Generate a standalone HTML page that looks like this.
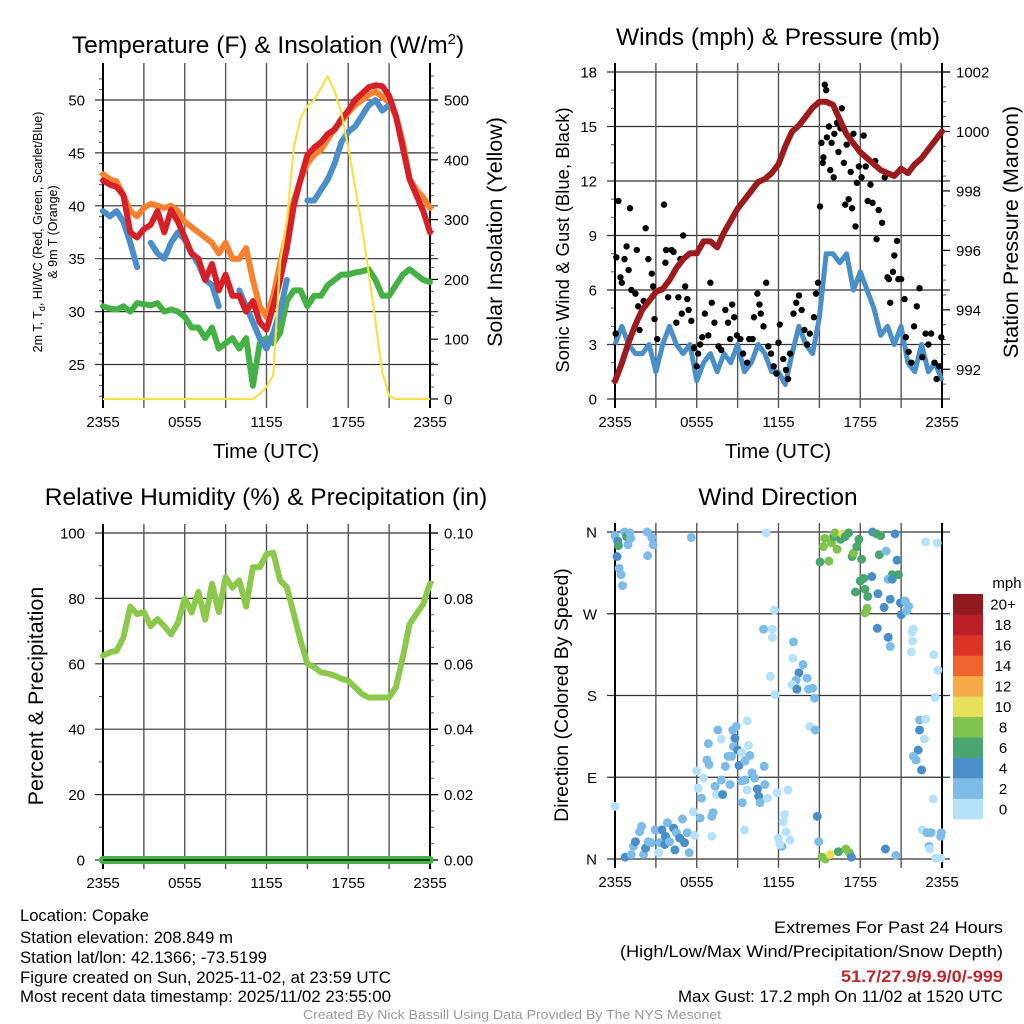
<!DOCTYPE html>
<html><head><meta charset="utf-8"><style>
html,body{margin:0;padding:0;background:#fff}
svg{display:block;font-family:"Liberation Sans",sans-serif}
</style></head><body>
<svg id="fig" width="1024" height="1024" viewBox="0 0 1024 1024" xmlns="http://www.w3.org/2000/svg">
<rect width="1024" height="1024" fill="#fff"/>
<g id="p1"></g>
<g id="p2"></g>
<g id="p3"></g>
<g id="p4"></g>
<g font-size="16.5" fill="#000">
<text x="20" y="921" textLength="129" lengthAdjust="spacingAndGlyphs">Location: Copake</text>
<text x="20" y="943" textLength="213" lengthAdjust="spacingAndGlyphs">Station elevation: 208.849 m</text>
<text x="20" y="963" textLength="247" lengthAdjust="spacingAndGlyphs">Station lat/lon: 42.1366; -73.5199</text>
<text x="20" y="983" textLength="371" lengthAdjust="spacingAndGlyphs">Figure created on Sun, 2025-11-02, at 23:59 UTC</text>
<text x="20" y="1002" textLength="371" lengthAdjust="spacingAndGlyphs">Most recent data timestamp: 2025/11/02 23:55:00</text>
<text x="774" y="933" textLength="229" lengthAdjust="spacingAndGlyphs">Extremes For Past 24 Hours</text>
<text x="620" y="957" textLength="383" lengthAdjust="spacingAndGlyphs">(High/Low/Max Wind/Precipitation/Snow Depth)</text>
<text x="841" y="982" textLength="162" lengthAdjust="spacingAndGlyphs" font-weight="bold" fill="#c0262d">51.7/27.9/9.9/0/-999</text>
<text x="678" y="1002" textLength="325" lengthAdjust="spacingAndGlyphs">Max Gust: 17.2 mph On 11/02 at 1520 UTC</text>
<text x="303" y="1019" textLength="418" lengthAdjust="spacingAndGlyphs" font-size="13" fill="#999">Created By Nick Bassill Using Data Provided By The NYS Mesonet</text>
</g>
</svg>
<script>
// ---- shared time axis ----
const hourLabels = ["2355","0555","1155","1755","2355"];
const halfHours = []; for (let i = 0; i <= 48; i++) halfHours.push(i / 2);

// ---- panel 1 data ----
const tempRed = [42.4,42.0,41.8,41.0,37.5,37.0,37.8,38.2,39.5,37.5,39.6,38.5,37.0,35.5,35.0,33.0,34.5,32.0,33.5,31.5,31.5,30.0,31.0,29.0,28.3,30.5,33.0,36.0,40.0,42.5,44.8,45.5,46.0,46.8,47.2,48.2,49.0,50.0,50.6,51.2,51.4,51.3,50.4,48.5,45.5,42.5,41.0,39.5,37.5];
const temp9mOrange = [43.0,42.5,42.3,41.0,39.5,39.0,39.8,40.2,40.0,39.8,40.0,39.5,38.5,38.0,37.5,37.0,36.5,35.5,36.5,35.0,35.0,36.0,33.0,30.5,29.5,31.5,34.5,37.5,40.5,42.5,44.0,44.8,45.3,46.3,47.3,48.0,48.8,49.5,50.0,50.5,50.8,50.3,49.8,48.5,46.0,42.5,41.5,40.8,39.8];
const heatIndexBlue = [39.5,39.0,39.5,38.5,36.5,34.2,null,36.5,35.5,35.0,36.5,37.5,36.8,35.5,34.5,33.0,32.5,30.5,null,null,32.0,30.5,29.0,27.5,26.5,28.0,30.0,33.0,null,null,40.5,40.5,41.5,42.5,44.0,46.0,47.0,47.5,48.5,49.5,50.0,49.0,49.5,null,null,41.0,null,null,36.0];
const dewGreen = [30.5,30.3,30.2,30.5,30.0,30.8,30.7,30.6,30.8,30.0,30.2,30.0,29.5,28.5,28.5,27.5,28.5,26.5,27.0,27.5,26.5,27.5,23.0,27.0,27.5,27.0,28.0,31.0,32.0,32.0,30.5,31.5,31.5,32.5,33.0,33.5,33.5,33.7,33.8,34.0,33.0,31.5,31.5,32.5,33.5,34.0,33.5,33.0,32.8];
const insolation = [0,0,0,0,0,0,0,0,0,0,0,0,0,0,0,0,0,0,0,0,0,0,0,8,20,40,230,300,420,470,490,500,520,540,515,478,420,355,288,210,130,45,5,0,0,0,0,0,0];
const tempTicks = [25,30,35,40,45,50];
const insolTicks = [0,100,200,300,400,500];

// ---- panel 2 data ----
const windSpeed = [3,4,3,2.5,2.5,3,1.5,3,4,3,2.5,3,1,2,2.5,1.5,2.5,2,3,1.5,2,3,2.5,1.5,1.5,0.8,2.5,4,3,2.5,4.5,8,8,7.5,8,6,7,6,5,3.5,4,3,4,2,1.5,3,1.5,2,1];
const pressure = [991.6,992.2,992.9,993.5,994.0,994.3,994.6,994.7,995.0,995.4,995.7,995.9,995.9,996.3,996.3,996.1,996.6,997.0,997.4,997.7,998.0,998.3,998.4,998.6,998.9,999.5,1000.0,1000.2,1000.5,1000.8,1001.0,1001.0,1000.9,1000.4,999.9,999.6,999.3,999.1,998.9,998.7,998.6,998.5,998.75,998.6,998.9,999.1,999.4,999.7,1000.0];
const gustTime = [0.05,0.1,0.25,0.4,0.5,0.7,0.85,1,1.1,1.2,1.5,1.6,1.7,1.8,2.1,2.25,2.45,2.7,2.8,2.9,3.1,3.3,3.6,3.7,3.75,3.9,4.15,4.3,4.5,4.65,4.8,4.9,5.0,5.15,5.3,5.4,5.6,5.8,6.0,6.1,6.25,6.4,6.6,6.85,7.0,7.1,7.3,7.6,7.8,8.1,8.3,8.45,8.6,8.75,8.95,9.2,9.4,9.7,9.85,10.1,10.2,10.45,10.6,10.7,10.9,11.1,11.25,11.45,11.65,11.85,12.0,12.1,12.35,12.55,12.7,12.85,13.1,13.3,13.5,13.7,13.9,14.1,14.3,14.6,14.75,14.9,15.05,15.15,15.25,15.3,15.4,15.5,15.55,15.7,15.8,15.9,16.05,16.1,16.3,16.4,16.55,16.65,16.8,16.9,17.0,17.15,17.3,17.4,17.5,17.65,17.75,17.9,18.1,18.25,18.4,18.55,18.75,18.9,19.1,19.2,19.35,19.6,19.8,20.0,20.1,20.2,20.4,20.5,20.7,20.8,21.0,21.25,21.35,21.55,21.75,21.95,22.15,22.35,22.55,22.8,23.0,23.2,23.45,23.6,23.8,23.95];
const gustSpeed = [3.6,7.8,10.9,6.7,6.4,7.7,8.4,7.1,10.5,6.0,5.8,8.2,5.1,3.8,5.4,9.4,7.7,6.9,6.2,4.4,3.3,6.0,10.7,7.5,8.2,5.6,8.2,8.1,4.2,5.6,7.7,4.7,9.0,6.2,5.5,4.9,4.3,2.8,1.8,2.5,3.0,3.4,4.7,3.5,6.4,5.3,4.2,2.9,2.7,4.9,4.2,3.3,5.2,4.5,3.5,3.3,2.5,2.0,3.3,3.3,4.5,5.8,5.2,4.7,4.0,6.4,2.9,2.5,1.8,1.4,3.1,4.1,2.2,1.6,1.1,2.5,4.7,5.3,5.7,4.9,3.8,3.0,3.6,4.5,5.8,6.4,10.6,14.1,13.0,13.3,17.3,17.0,14.4,15.0,12.6,14.1,12.2,14.6,15.2,13.6,14.9,16.0,13.0,10.7,14.0,11.0,12.5,10.5,14.6,9.5,11.9,12.8,12.2,14.5,12.8,10.9,11.8,10.8,13.1,8.8,10.4,9.7,12.2,6.7,6.6,5.3,7.0,7.9,8.7,6.6,6.6,5.5,3.4,2.6,2.0,4.0,5.1,6.1,2.3,3.6,3.0,3.6,2.0,1.1,1.8,3.4];
const windTicks = [0,3,6,9,12,15,18];
const pressTicks = [992,994,996,998,1000,1002];

// ---- panel 3 data ----
const relHumidity = [62.5,63.5,64,68,77.5,75.2,75.8,71.5,73.7,71.5,69,72.5,80,75.7,82,73.5,84.5,75.8,86.5,83.3,85.5,77.5,89.5,89.5,93.5,94,85.5,83.4,75.2,67.1,60,59,57.4,57,56.4,55.4,54.8,52.8,50.8,49.7,49.7,49.7,49.7,52.8,62,72.2,75.2,78.3,84.5];
const precip = [0,0,0,0,0,0,0,0,0,0,0,0,0,0,0,0,0,0,0,0,0,0,0,0,0,0,0,0,0,0,0,0,0,0,0,0,0,0,0,0,0,0,0,0,0,0,0,0,0];
const rhTicks = [0,20,40,60,80,100];
const precipTicks = ["0.00","0.02","0.04","0.06","0.08","0.10"];

// ---- panel 4 data ----
const dirTime = [0,0.2,0.25,0.7,0.85,1.1,1.15,0.95,0.15,0.3,0.45,0.55,2.35,2.7,2.8,2.4,5.6,11.1,0,
0.75,1.2,1.35,1.5,1.8,1.95,2.1,2.25,2.45,2.65,2.95,3.2,3.3,3.45,3.65,3.7,3.85,4.0,4.3,4.4,4.5,4.75,4.95,5.1,5.3,5.45,5.75,5.85,6.25,6.35,6.1,6.0,6.5,7.1,7.1,7.2,7.35,7.45,7.9,7.8,8.45,8.1,8.3,8.55,6.75,6.9,6.85,7.55,7.8,8.65,8.9,9.7,8.8,8.7,9.0,9.1,9.3,9.55,9.8,9.9,9.55,9.3,9.35,9.5,9.7,10.05,10.25,10.45,10.55,10.65,11.0,10.95,11.2,11.9,12.7,12.45,12.35,12.55,12.0,12.25,12.1,12.85,
10.9,11.55,11.55,11.7,11.4,11.75,13.1,13.05,13.5,13.8,13.3,13.0,13.35,14.1,14.2,14.5,14.65,14.3,14.7,14.85,14.95,
15.05,15.3,15.4,15.7,15.9,16.05,16.15,16.3,16.55,16.7,16.9,17.15,17.4,17.5,17.75,17.9,18.1,17.65,18.0,18.25,18.35,18.5,18.35,18.55,18.85,19.3,18.9,19.2,19.5,19.4,19.9,20.35,20.05,20.35,20.55,20.7,20.8,19.75,19.25,20.05,20.2,20.2,20.95,21.0,21.3,21.55,21.4,21.8,21.9,21.85,21.75,22.8,23.65,23.4,23.7,23.5,
22.35,22.8,22.35,22.7,22.25,21.9,22.1,22.5,23.35,22.55,22.9,23.2,23.95,23.9,23.05,23.1,23.55,23.9,
15.2,15.45,15.8,16.4,16.95,17.2,17.35,19.85,20.6];
const dirDeg = [356,350,345,360,355,359,353,346,333,320,313,301,360,354,346,334,354,359,58,
2,5,14,19,30,36,5,12,19,18,32,7,18,32,16,25,40,19,34,10,29,23,44,18,29,7,52,26,45,67,78,97,89,25,47,51,80,71,71,87,82,102,113,113,109,104,127,142,132,142,146,152,133,124,120,103,117,108,125,114,87,86,62,32,76,95,89,77,69,62,82,102,67,73,76,49,41,30,23,14,16,21,
253,253,244,274,201,181,239,221,205,214,197,192,187,199,187,188,177,146,142,47,19,
327,344,353,328,348,355,359,341,352,358,355,359,333,337,344,352,330,294,306,309,297,276,271,289,311,292,360,358,356,335,339,313,308,308,358,329,313,277,254,244,234,286,282,269,284,278,273,250,253,240,228,349,348,225,208,178,
153,154,142,132,120,113,109,98,66,32,29,29,29,25,14,11,1,1,
2,0,5,8,11,7,2,11,4];
const dirSpeed = [3,5,7,3,7,3,3,3,5,3,3,3,3,3,3,3,3,1,1,
5,3,3,5,3,3,3,5,3,3,3,1,3,5,5,5,3,3,5,5,3,5,3,5,3,3,1,1,3,3,1,1,1,1,3,3,3,1,5,3,3,3,3,3,3,3,3,3,1,3,3,1,5,3,5,5,1,3,1,3,3,3,3,1,1,3,3,5,5,3,3,3,1,1,1,1,1,1,1,3,1,1,
3,1,1,1,1,1,3,1,5,3,3,1,5,3,3,3,3,1,3,5,3,
7,9,9,9,9,7,9,9,7,11,7,7,7,9,7,7,7,7,7,7,7,9,9,7,5,5,5,7,7,7,3,7,3,5,5,5,7,5,5,5,3,5,5,5,3,3,3,1,1,1,1,1,1,1,1,1,
3,1,5,1,5,3,3,5,1,1,3,3,3,3,3,1,1,1,
9,9,11,7,9,9,5,5,3];
const dirTicks = [0,90,180,270,360];
const dirLabels = ["N","E","S","W","N"];
const speedBinLabels = ["0","2","4","6","8","10","12","14","16","18","20+"];
const speedBinColors = ["#b5e2f8","#7dbce7","#4a8fc8","#4aa66e","#7fc24e","#e6e05a","#f6aa4a","#ef6530","#dc3327","#bb1e26","#901a1e"];

// ---- geometry ----
const NS = "http://www.w3.org/2000/svg";
const PX0 = [103, 615], PW = 327;
function mk(parent, tag, attrs, text) {
  const e = document.createElementNS(NS, tag);
  for (const k in attrs) e.setAttribute(k, attrs[k]);
  if (text !== undefined) e.textContent = text;
  parent.appendChild(e);
  return e;
}
function xScale(x0) { return t => x0 + t * PW / 24; }
function linScale(v0, v1, y0, y1) { return v => y0 + (v - v0) * (y1 - y0) / (v1 - v0); }

function drawFrame(g, x0, top, bottom, lyTicks, lyScale, lyLabels, ryTicks, ryScale, ryLabels, lMinor, rMinor) {
  const X = xScale(x0);
  lyTicks.forEach((v, i) => {
    const y = lyScale(v);
    const l = mk(g, "line", {x1: x0 - 8, x2: x0 + PW + 8, y1: y, y2: y, stroke: "#333", "stroke-width": 1.2});
    
    
    const t = mk(g, "text", {x: x0 - 18, y: y + 5.5, "text-anchor": "end", "font-size": 15}, lyLabels[i]);
    
    
  });
  if (ryTicks) ryTicks.forEach((v, i) => {
    const y = ryScale(v);
    mk(g, "line", {x1: x0 + PW, x2: x0 + PW + 8, y1: y, y2: y, stroke: "#000", "stroke-width": 1.2});
    const t = mk(g, "text", {x: x0 + PW + 14, y: y + 5.5, "font-size": 15}, ryLabels[i]);
    
    
  });
  (lMinor || []).forEach(y => mk(g, "line", {x1: x0 - 4, x2: x0, y1: y, y2: y, stroke: "#555", "stroke-width": 1}));
  (rMinor || []).forEach(y => mk(g, "line", {x1: x0 + PW, x2: x0 + PW + 4, y1: y, y2: y, stroke: "#555", "stroke-width": 1}));
  for (let h = 0; h <= 24; h += 3) {
    const x = X(h);
    const l = mk(g, "line", {x1: x, x2: x, y1: top - 9, y2: bottom + 9, stroke: (h === 0 || h === 24) ? "#000" : "#555", "stroke-width": (h === 0 || h === 24) ? 2 : 1.4});
    
    
  }
  hourLabels.forEach((s, i) => {
    const t = mk(g, "text", {x: X(i * 6), y: bottom + 28, "text-anchor": "middle", "font-size": 15}, s);
    
    
  });
}
function pathFrom(xs, ys, X, Y) {
  let d = "", pen = false;
  for (let i = 0; i < xs.length; i++) {
    if (ys[i] === null) { pen = false; continue; }
    d += (pen ? "L" : "M") + X(xs[i]).toFixed(1) + "," + Y(ys[i]).toFixed(1);
    pen = true;
  }
  return d;
}
function title(g, x, y, s, size, name) {
  const t = mk(g, "text", {x: x, y: y, "text-anchor": "middle", "font-size": size}, s);
  
  
  return t;
}
function vtitle(g, x, y, s, size, name) {
  const t = mk(g, "text", {x: 0, y: 0, "text-anchor": "middle", "font-size": size, transform: `translate(${x},${y}) rotate(-90)`}, s);
  
  
  return t;
}

// ---- Panel 1 ----
(function () {
  const g = document.getElementById("p1");
  const top = 72, bottom = 399, X = xScale(PX0[0]);
  const Y = linScale(50, 25, 100, 364.5);
  const Ys = linScale(0, 500, 399, 100);
  const lMinor = []; for (let v = 22; v <= 52; v++) if (v % 5) lMinor.push(Y(v));
  const rMinor = []; for (let v = 20; v <= 540; v += 20) if (v % 100) rMinor.push(Ys(v));
  drawFrame(g, PX0[0], top, bottom, tempTicks, Y, tempTicks.map(String), insolTicks, Ys, insolTicks.map(String), lMinor, rMinor);
  const series = [[dewGreen, "#44b046", "dewpoint-line"], [temp9mOrange, "#f58230", "temp-9m-line"], [heatIndexBlue, "#4b8fc9", "heat-index-line"], [tempRed, "#d62027", "temp-2m-line"]];
  series.forEach(s => {
    const p = mk(g, "path", {d: pathFrom(halfHours, s[0], X, Y), fill: "none", stroke: s[1], "stroke-width": 6, "stroke-linejoin": "round", "stroke-linecap": "round"});
    
    
  });
  const ins = mk(g, "path", {d: pathFrom(halfHours, insolation, X, Ys), fill: "none", stroke: "#f8e04a", "stroke-width": 2.2, "stroke-linejoin": "round"});
  
  
  const tt = mk(g, "text", {x: 268, y: 53, "text-anchor": "middle", "font-size": 24.5});
  
  
  tt.innerHTML = 'Temperature (F) &amp; Insolation (W/m<tspan dy="-9" font-size="15">2</tspan><tspan dy="9">)</tspan>';
  title(g, 266, 458, "Time (UTC)", 20.5, "x-axis-title");
  const lt = mk(g, "text", {x: 0, y: 0, "text-anchor": "middle", "font-size": 12.5, transform: "translate(42,232) rotate(-90)"});
  
  
  lt.innerHTML = '2m T, T<tspan font-size="9" dy="3">d</tspan><tspan dy="-3">, HI/WC (Red, Green, Scarlet/Blue)</tspan>';
  vtitle(g, 57, 232, "& 9m T (Orange)", 12.5, "temperature-y-axis-title-line2");
  vtitle(g, 502, 232, "Solar Insolation (Yellow)", 21.5, "insolation-y-axis-title");
})();

// ---- Panel 2 ----
(function () {
  const g = document.getElementById("p2");
  const top = 72, bottom = 399, X = xScale(PX0[1]);
  const Y = linScale(0, 18, 399, 72);
  const Yp = linScale(991, 1002, 399, 72);
  const lMinor = []; for (let v = 1; v < 18; v++) if (v % 3) lMinor.push(Y(v));
  const rMinor = []; for (let v = 991.5; v < 1002; v += 0.5) if (v % 2) rMinor.push(Yp(v));
  drawFrame(g, PX0[1], top, bottom, windTicks, Y, windTicks.map(String), pressTicks, Yp, pressTicks.map(String), lMinor, rMinor);
  const w = mk(g, "path", {d: pathFrom(halfHours, windSpeed, X, Y), fill: "none", stroke: "#4b8fc9", "stroke-width": 5, "stroke-linejoin": "round"});
  
  
  gustTime.forEach((t, i) => {
    const c = mk(g, "circle", {cx: X(t), cy: Y(gustSpeed[i]), r: 3.2, fill: "#000"});
    
    
  });
  const p = mk(g, "path", {d: pathFrom(halfHours, pressure, X, Yp), fill: "none", stroke: "#9b1b1e", "stroke-width": 6, "stroke-linejoin": "round", "stroke-linecap": "round"});
  
  
  title(g, 778, 45, "Winds (mph) & Pressure (mb)", 24.5, "wind-title");
  title(g, 778, 458, "Time (UTC)", 20.5, "x-axis-title");
  vtitle(g, 569, 240, "Sonic Wind & Gust (Blue, Black)", 18.5, "wind-y-axis-title");
  vtitle(g, 1018, 232, "Station Pressure (Maroon)", 21.5, "pressure-y-axis-title");
})();

// ---- Panel 3 ----
(function () {
  const g = document.getElementById("p3");
  const top = 533, bottom = 860, X = xScale(PX0[0]);
  const Y = linScale(0, 100, 860, 533);
  const Yp = linScale(0, 0.1, 860, 533);
  const lMinor = []; for (let v = 10; v < 100; v += 20) lMinor.push(Y(v));
  const rMinor = []; for (let v = 5; v < 100; v += 5) if (v % 20) rMinor.push(Y(v));
  drawFrame(g, PX0[0], top, bottom, rhTicks, Y, rhTicks.map(String), precipTicks.map(Number), Yp, precipTicks, lMinor, rMinor);
  const rh = mk(g, "path", {d: pathFrom(halfHours, relHumidity, X, Y), fill: "none", stroke: "#8cc84b", "stroke-width": 6, "stroke-linejoin": "round", "stroke-linecap": "round"});
  
  
  const pr = mk(g, "path", {d: pathFrom(halfHours, precip, X, Yp), fill: "none", stroke: "#44b046", "stroke-width": 8, "stroke-linecap": "round"});
  
  
  mk(g, "line", {x1: PX0[0], x2: PX0[0] + PW, y1: 860, y2: 860, stroke: "#000", "stroke-width": 1.2});
  title(g, 266, 505, "Relative Humidity (%) & Precipitation (in)", 24.5, "humidity-title");
  vtitle(g, 43, 696, "Percent & Precipitation", 21.5, "humidity-y-axis-title");
})();

// ---- Panel 4 ----
(function () {
  const g = document.getElementById("p4");
  const top = 532, bottom = 859, X = xScale(PX0[1]);
  const Y = linScale(0, 360, 859, 532);
  drawFrame(g, PX0[1], top, bottom, dirTicks, Y, dirLabels, null, null, null, [], []);
  dirTime.forEach((t, i) => {
    const bin = Math.min(10, Math.floor(dirSpeed[i] / 2));
    const c = mk(g, "circle", {cx: X(t), cy: Y(dirDeg[i]), r: 4.5, fill: speedBinColors[bin]});
    
    
  });
  title(g, 778, 505, "Wind Direction", 24.5, "direction-title");
  vtitle(g, 568, 695, "Direction (Colored By Speed)", 19.5, "direction-y-axis-title");
  const cbTop = 594, cbBot = 819, bh = (cbBot - cbTop) / speedBinColors.length;
  speedBinColors.forEach((col, i) => {
    const y = cbBot - (i + 1) * bh;
    const r = mk(g, "rect", {x: 953, y: y, width: 30, height: bh + 0.3, fill: col});
    
    
    const t = mk(g, "text", {x: 1003, y: y + bh / 2 + 5.5, "text-anchor": "middle", "font-size": 15}, speedBinLabels[i]);
    
    
  });
  const u = mk(g, "text", {x: 1007, y: 588, "text-anchor": "middle", "font-size": 15}, "mph");
  
  
})();
</script>
</body></html>
